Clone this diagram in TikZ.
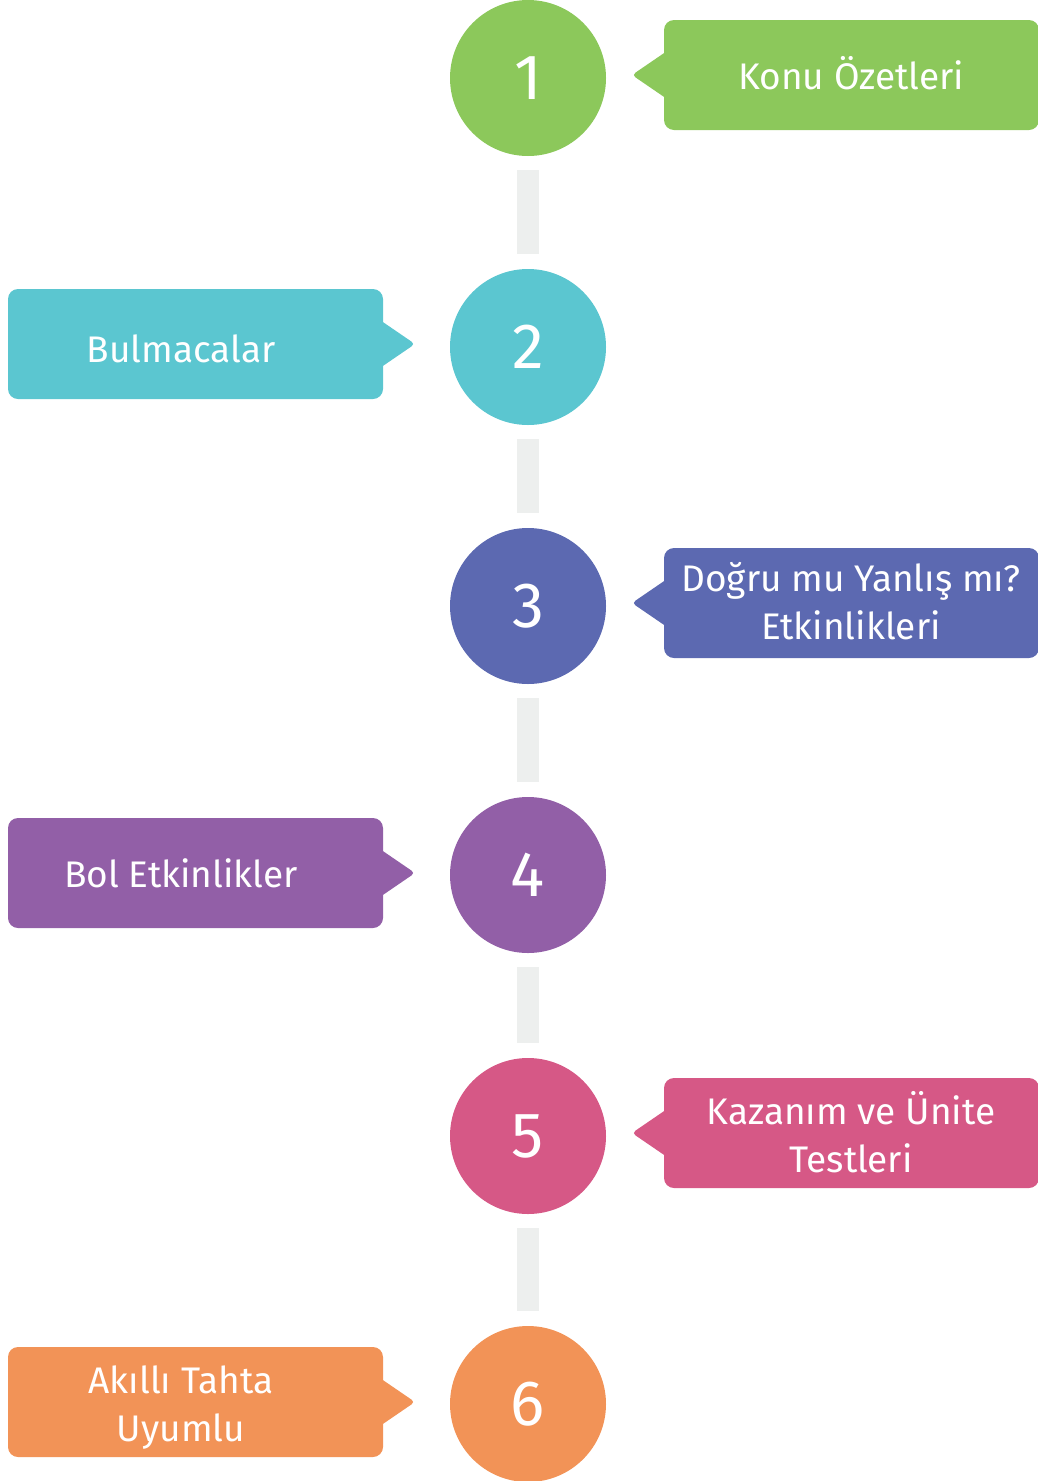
\documentclass[tikz,border=0pt]{standalone}
\usepackage{fontspec}
\setmainfont{Fira Sans}

\definecolor{c1}{HTML}{8CC85B}
\definecolor{c2}{HTML}{5BC6D0}
\definecolor{c3}{HTML}{5C69B1}
\definecolor{c4}{HTML}{925FA7}
\definecolor{c5}{HTML}{D65886}
\definecolor{c6}{HTML}{F29357}
\definecolor{barcol}{HTML}{EDEFEE}

\begin{document}
\begin{tikzpicture}[x=1pt,y=-1pt,
    stepcircle/.style={circle, minimum size=156pt, inner sep=0pt, outer sep=0pt,
        text=white, font=\fontsize{64}{64}\selectfont},
    callbox/.style={rectangle, rounded corners=10pt, minimum width=375pt,
        minimum height=110pt, inner sep=0pt, outer sep=0pt},
    calltext/.style={text=white, align=center, inner sep=0pt,
        font=\fontsize{37}{48}\selectfont},
    linkbar/.style={draw=barcol, line width=22pt, shorten <=14pt, shorten >=15pt}]

\useasboundingbox (0,0) rectangle (1037,1481);

\foreach \i/\y in {1/78,2/347,3/606,4/875,5/1136,6/1404}
    \node [stepcircle, fill=c\i] (n\i) at (528,\y) {\i};

\foreach \i/\j in {1/2,2/3,3/4,4/5,5/6}
    \draw [linkbar] (n\i) -- (n\j);

% right side
\node [callbox, fill=c1] (b1) at (851.5,75) {};
\node [callbox, fill=c3] (b3) at (851.5,603) {};
\node [callbox, fill=c5] (b5) at (851.5,1133) {};

\foreach \i in {1,3,5}
    \fill [c\i, rounded corners=4pt] (b\i.west) ++(6,-26) -- ++(-38,26) -- ++(38,26) -- cycle;

% left side
\node [callbox, fill=c2] (b2) at (195.5,344) {};
\node [callbox, fill=c4] (b4) at (195.5,873) {};
\node [callbox, fill=c6] (b6) at (195.5,1402) {};

\foreach \i in {2,4,6}
    \fill [c\i, rounded corners=4pt] (b\i.east) ++(-6,-26) -- ++(38,26) -- ++(-38,26) -- cycle;

\node [calltext] (t1) at (851,73) {Konu Özetleri};
\node [calltext] (t2) at (181,349) {Bulmacalar};
\node [calltext] (t3) at (851,601) {Doğru mu Yanlış mı?\\Etkinlikleri};
\node [calltext] (t4) at (181,873) {Bol Etkinlikler};
\node [calltext] (t5) at (851,1132) {Kazanım ve Ünite\\Testleri};
\node [calltext] (t6) at (181,1408) {Akıllı Tahta\\Uyumlu};

\end{tikzpicture}
\end{document}
